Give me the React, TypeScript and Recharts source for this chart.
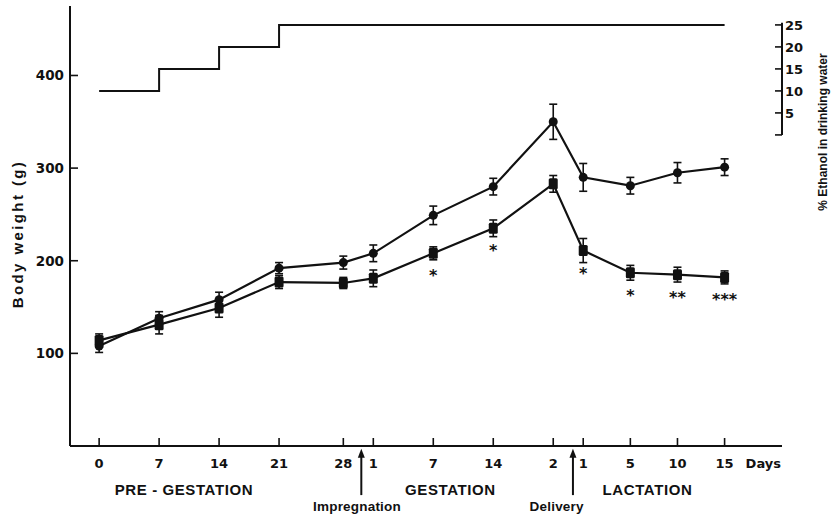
import {
  ErrorBar,
  LabelList,
  Line,
  LineChart,
  ReferenceDot,
  ReferenceLine,
  XAxis,
  YAxis,
} from "recharts";

// sampling points; timeline = where each one sits on the broken time axis
const dayLabels = ["0", "7", "14", "21", "28", "1", "7", "14", "2", "1", "5", "10", "15"];
const timeline = [0, 7, 14, 21, 28.5, 32, 39, 46, 53, 56.5, 62, 67.5, 73];

const controlWeight = [108, 138, 158, 192, 198, 208, 249, 280, 350, 290, 281, 295, 301];
const controlSem = [7, 7, 8, 6, 7, 9, 10, 9, 19, 15, 9, 11, 9];
const ethanolWeight = [114, 131, 149, 177, 176, 181, 208, 235, 283, 211, 187, 185, 182];
const ethanolSem = [7, 10, 10, 7, 6, 9, 7, 9, 9, 13, 8, 8, 7];
const ethanolPct = [10, 15, 20, 25, 25, 25, 25, 25, 25, 25, 25, 25, 25];
const significance = ["", "", "", "", "", "", "*", "*", "", "*", "*", "**", "***"];

const weightTicks = [100, 200, 300, 400];
const pctTicks = [0, 5, 10, 15, 20, 25];

const phases = [
  { name: "PRE - GESTATION", at: 9.9 },
  { name: "GESTATION", at: 41 },
  { name: "LACTATION", at: 64 },
];
const events = [
  { name: "Impregnation", at: 30.6, textAt: 30.1 },
  { name: "Delivery", at: 55.3, textAt: 53.4 },
];

const rows = timeline.map((t, i) => ({
  t,
  control: controlWeight[i],
  cSem: controlSem[i],
  ethanol: ethanolWeight[i],
  eSem: ethanolSem[i],
  pct: ethanolPct[i],
  sig: significance[i],
}));

const INK = "#111";
const DIGITS = "'DejaVu Sans', sans-serif";
const TEXT = "'Liberation Sans', Arial, sans-serif";

const XTick = (p: any) => {
  const i = timeline.indexOf(p.payload.value);
  return (
    <g>
      <line x1={p.x} y1={p.y} x2={p.x} y2={p.y - 8} stroke={INK} strokeWidth={1.6} />
      <text x={p.x} y={p.y + 22} textAnchor="middle" fontFamily={DIGITS} fontWeight="bold" fontSize={13} fill={INK}>
        {dayLabels[i]}
      </text>
      {i === timeline.length - 1 && (
        <text x={p.x + 21} y={p.y + 22} fontFamily={DIGITS} fontWeight="bold" fontSize={13} fill={INK}>
          Days
        </text>
      )}
    </g>
  );
};

const LeftTick = (p: any) => (
  <g>
    <line x1={p.x} y1={p.y} x2={p.x + 8} y2={p.y} stroke={INK} strokeWidth={1.6} />
    <text x={p.x - 6} y={p.y + 5} textAnchor="end" fontFamily={DIGITS} fontWeight="bold" fontSize={13.5} fill={INK}>
      {p.payload.value}
    </text>
  </g>
);

const RightTick = (p: any) => (
  <g>
    <line x1={p.x - 7} y1={p.y} x2={p.x} y2={p.y} stroke={INK} strokeWidth={1.6} />
    {p.payload.value > 0 && (
      <text x={p.x + 3} y={p.y + 5} fontFamily={DIGITS} fontWeight="bold" fontSize={13} fill={INK}>
        {p.payload.value}
      </text>
    )}
  </g>
);

const LeftTitle = (p: any) => {
  const vb = p.viewBox;
  const cx = vb.x + 17;
  const cy = vb.y + vb.height / 2 + 8;
  return (
    <text x={cx} y={cy} transform={`rotate(-90 ${cx} ${cy})`} textAnchor="middle" dominantBaseline="central"
      fontFamily={TEXT} fontWeight="bold" fontSize={15} letterSpacing={2.4} fill={INK}>
      Body weight (g)
    </text>
  );
};

const RightTitle = (p: any) => {
  const vb = p.viewBox;
  const cx = vb.x + 41;
  const cy = vb.y + 126;
  return (
    <text x={cx} y={cy} transform={`rotate(-90 ${cx} ${cy})`} textAnchor="middle" dominantBaseline="central"
      fontFamily={TEXT} fontWeight="bold" fontSize={12} fill={INK}>
      % Ethanol in drinking water
    </text>
  );
};

const CircleDot = (p: any) => <circle cx={p.cx} cy={p.cy} r={4.5} fill={INK} />;
const SquareDot = (p: any) => (
  <rect x={p.cx - 4.5} y={p.cy - 5.5} width={9} height={11} rx={1.5} fill={INK} />
);

const Arrow = (p: any) => {
  const top = Math.min(p.y1, p.y2);
  const bottom = Math.max(p.y1, p.y2);
  return (
    <g>
      <line x1={p.x1} y1={top + 6} x2={p.x1} y2={bottom} stroke={INK} strokeWidth={2} />
      <path d={`M${p.x1},${top} l-3.5,9 l7,0 z`} fill={INK} />
    </g>
  );
};

const phaseText = (label: string, size: number, spacing: number) => (p: any) => (
  <text x={p.cx} y={p.cy} textAnchor="middle" fontFamily={TEXT} fontWeight="bold" fontSize={size}
    letterSpacing={spacing} fill={INK}>
    {label}
  </text>
);

const Stars = (p: any) =>
  p.value ? (
    <text x={p.x} y={p.y + 28} textAnchor="middle" fontFamily={DIGITS} fontWeight="bold" fontSize={16} fill={INK}>
      {p.value}
    </text>
  ) : null;

export default function App() {
  return (
    <div style={{ position: "absolute", left: 0, top: 0, width: 835, height: 517, background: "#fff" }}>
      <LineChart width={835} height={517} data={rows} margin={{ top: 6, right: 8, bottom: 41, left: 0 }}>
        <XAxis
          dataKey="t"
          type="number"
          domain={[-3.4, 79.7]}
          ticks={timeline}
          interval={0}
          height={30}
          tickSize={0}
          tickMargin={0}
          tickLine={false}
          axisLine={{ stroke: INK, strokeWidth: 2 }}
          tick={<XTick />}
        />
        <YAxis
          yAxisId="left"
          domain={[0, 475]}
          ticks={weightTicks}
          interval={0}
          width={70}
          tickSize={0}
          tickMargin={0}
          tickLine={false}
          axisLine={{ stroke: INK, strokeWidth: 2 }}
          tick={<LeftTick />}
          label={<LeftTitle />}
        />
        <YAxis
          yAxisId="right"
          orientation="right"
          domain={[-70.7, 29.3]}
          ticks={pctTicks}
          interval={0}
          width={45}
          tickSize={0}
          tickMargin={0}
          tickLine={false}
          axisLine={false}
          tick={<RightTick />}
          label={<RightTitle />}
        />

        <ReferenceLine
          yAxisId="right"
          segment={[{ x: 79.7, y: 0 }, { x: 79.7, y: 25.5 }]}
          stroke={INK}
          strokeWidth={2}
          ifOverflow="visible"
        />

        {events.map((e) => (
          <ReferenceLine
            key={e.name}
            yAxisId="left"
            segment={[{ x: e.at, y: -3 }, { x: e.at, y: -53 }]}
            ifOverflow="visible"
            shape={Arrow}
          />
        ))}
        {events.map((e) => (
          <ReferenceDot key={e.name + "-t"} yAxisId="left" x={e.textAt} y={-70} r={0}
            ifOverflow="visible" shape={phaseText(e.name, 13.5, 0.2)} />
        ))}
        {phases.map((ph) => (
          <ReferenceDot key={ph.name} yAxisId="left" x={ph.at} y={-53} r={0}
            ifOverflow="visible" shape={phaseText(ph.name, 15, 0.6)} />
        ))}

        <Line
          yAxisId="right"
          type="stepAfter"
          dataKey="pct"
          stroke={INK}
          strokeWidth={2}
          dot={false}
          isAnimationActive={false}
        />
        <Line
          yAxisId="left"
          type="linear"
          dataKey="control"
          stroke={INK}
          strokeWidth={2.2}
          dot={<CircleDot />}
          isAnimationActive={false}
        >
          <ErrorBar dataKey="cSem" direction="y" width={4} stroke={INK} strokeWidth={1.6} />
        </Line>
        <Line
          yAxisId="left"
          type="linear"
          dataKey="ethanol"
          stroke={INK}
          strokeWidth={2.2}
          dot={<SquareDot />}
          isAnimationActive={false}
        >
          <ErrorBar dataKey="eSem" direction="y" width={4} stroke={INK} strokeWidth={1.6} />
          <LabelList dataKey="sig" content={<Stars />} />
        </Line>
      </LineChart>
    </div>
  );
}
